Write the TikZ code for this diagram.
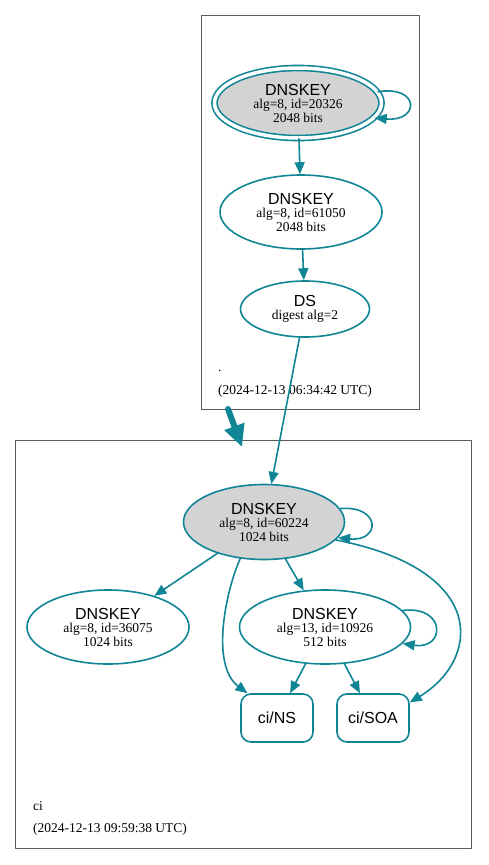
\documentclass[tikz,border=0pt]{standalone}
\usepackage{fontspec}
\setmainfont{Liberation Serif}
\setsansfont{Liberation Sans}
\usetikzlibrary{arrows.meta}
\usetikzlibrary{shapes.geometric}
\definecolor{dnsteal}{RGB}{16,133,150}
\definecolor{keygray}{RGB}{211,211,211}
\definecolor{zonegray}{RGB}{90,90,90}

\begin{document}
\begin{tikzpicture}[line cap=round,line join=round,>={Triangle[length=12pt,width=10pt]},x=1pt,y=-1pt,
    key/.style={ellipse,draw=dnsteal,line width=1.6pt,inner sep=0pt,align=center,font=\fontsize{13.5}{13.5}\selectfont},
    rrset/.style={rectangle,rounded corners=10pt,draw=dnsteal,line width=1.6pt,minimum width=72pt,minimum height=48pt,font=\sffamily\fontsize{16}{16}\selectfont},
    edge/.style={->,draw=dnsteal,line width=1.6pt},
    zone/.style={draw=zonegray,line width=0.8pt},
    zlabel/.style={anchor=base west,inner sep=0pt,font=\fontsize{13.5}{13.5}\selectfont}]
      \useasboundingbox (0,0) rectangle (488,865);
      \fill [white] (0,0) rectangle (488,865);
      % zones
      \draw [zone] (201,15) rectangle (419,409);
      \draw [zone] (15,440) rectangle (471,848);
      \node [zlabel] (rootname) at (218,371) {.};
      \node [zlabel] (rootdate) at (218,394) {(2024-12-13 06:34:42 UTC)};
      \node [zlabel] (ciname) at (33,810) {ci};
      \node [zlabel] (cidate) at (33,832) {(2024-12-13 09:59:38 UTC)};
      % root zone
      \node [key,fill=keygray,double=white,double distance=3.5pt,minimum width=167pt,minimum height=70pt] (k20326) at (298,103)
        {{\sffamily\fontsize{16}{16}\selectfont DNSKEY}\\alg=8, id=20326\\2048 bits};
      \node [key,minimum width=162pt,minimum height=74pt] (k61050) at (301,212)
        {{\sffamily\fontsize{16}{16}\selectfont DNSKEY}\\alg=8, id=61050\\2048 bits};
      \node [key,minimum width=129pt,minimum height=56pt] (ds) at (305,309)
        {{\sffamily\fontsize{16}{16}\selectfont DS}\\digest alg=2};
      % ci zone
      \node [key,fill=keygray,minimum width=161pt,minimum height=75pt] (k60224) at (264,522)
        {{\sffamily\fontsize{16}{16}\selectfont DNSKEY}\\alg=8, id=60224\\1024 bits};
      \node [key,minimum width=162pt,minimum height=74pt] (k36075) at (108,627)
        {{\sffamily\fontsize{16}{16}\selectfont DNSKEY}\\alg=8, id=36075\\1024 bits};
      \node [key,minimum width=171pt,minimum height=74pt] (k10926) at (325,627)
        {{\sffamily\fontsize{16}{16}\selectfont DNSKEY}\\alg=13, id=10926\\512 bits};
      \node [rrset] (ns) at (277,718) {ci/NS};
      \node [rrset] (soa) at (373,718) {ci/SOA};
      % edges
      \draw [edge] (k20326.8) .. controls (420,85) and (420,122) .. (k20326.-11);
      \draw [edge] (k20326) -- (k61050);
      \draw [edge] (k61050) -- (ds);
      \draw [edge] (ds) -- (k60224);
      \coordinate (zfrom) at (228,409);
      \coordinate (zto) at (242,447);
      \draw [->,draw=dnsteal,line width=6pt,>={Triangle[length=22pt,width=20pt]}] (zfrom) -- (zto);
      \draw [edge] (k60224.10) .. controls (381,505) and (381,542) .. (k60224.-12);
      \draw [edge] (k60224) -- (k36075);
      \draw [edge] (k60224) -- (k10926);
      \draw [edge] (k60224.-123) .. controls (226,590) and (210,665) .. (ns.140);
      \draw [edge] (k60224.-14) .. controls (490,570) and (480,660) .. (soa.23);
      \draw [edge] (k10926.12) .. controls (446,605) and (446,650) .. (k10926.-12);
      \draw [edge] (k10926) -- (ns);
      \draw [edge] (k10926) -- (soa);
\end{tikzpicture}
\end{document}
